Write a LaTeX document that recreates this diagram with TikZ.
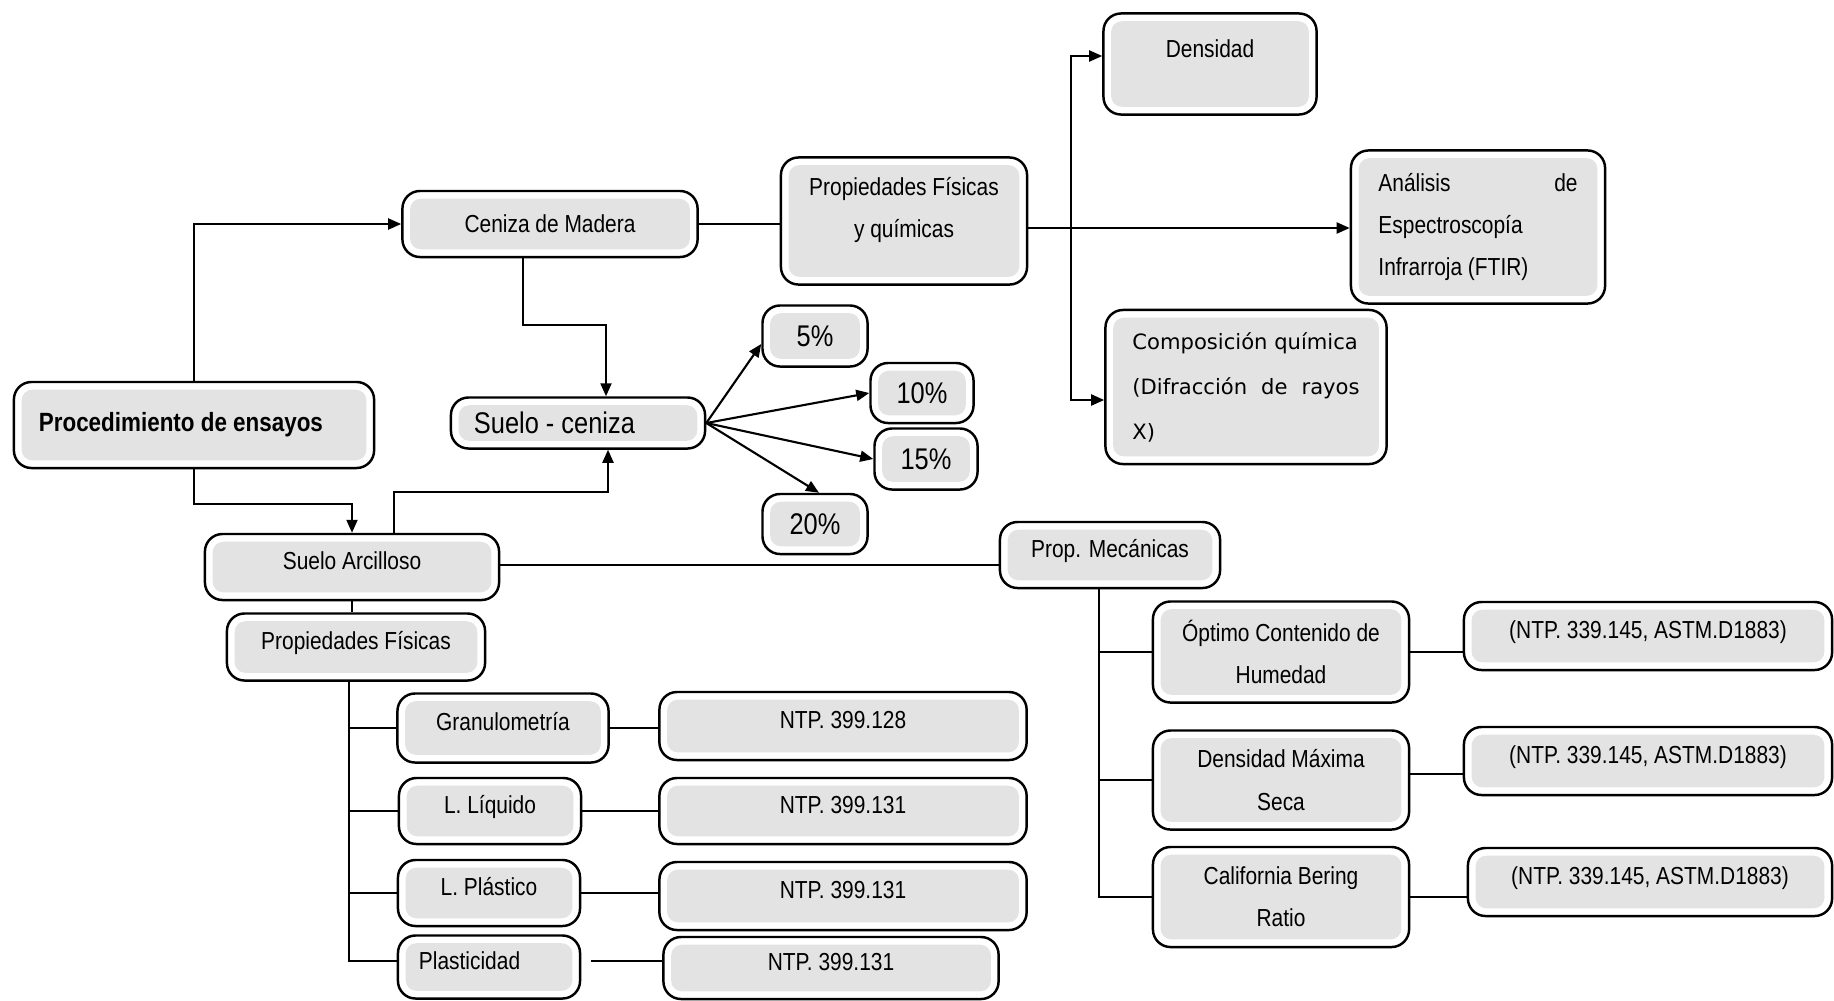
\documentclass[tikz,border=0pt]{standalone}
\usepackage{fontspec}
\setmainfont{Liberation Sans}[FakeStretch=0.85]
\newfontfamily\widefont{DejaVu Sans}
\usetikzlibrary{calc, arrows.meta, positioning}
\definecolor{boxgray}{HTML}{E3E3E3}

\tikzset{
    box/.style={draw, line width=0.7pt, rounded corners=5pt, fill=white, inner sep=0pt, align=center,
        font=\fontsize{7}{12}\selectfont,
        path picture={\fill[boxgray, rounded corners=3pt]
            ($(path picture bounding box.south west)+(2.2pt,2.2pt)$) rectangle
            ($(path picture bounding box.north east)+(-2.2pt,-2.2pt)$);}},
    lifted/.style={box, text depth=3.5pt},
    link/.style={line width=0.6pt},
    arr/.style={link, ->, >={Triangle[length=1.3mm, width=1.1mm]}},
    pct/.style={box, font=\fontsize{8.5}{10}\selectfont},
}

\begin{document}
\begin{tikzpicture}[x=0.01cm, y=-0.01cm]
    \useasboundingbox (0,0) rectangle (1834,1000);

    % top branch: ash
    \node[box, font=\bfseries\fontsize{7.5}{9}\selectfont, minimum width=3.6cm, minimum height=0.86cm, text width=3.1cm, align=flush left] (proc) at (194,425) {Procedimiento de ensayos};
    \node[box, minimum width=2.95cm, minimum height=0.66cm] (ceniza) at (550,224) {Ceniza de Madera};
    \node[box, text depth=7.5pt, minimum width=2.46cm, minimum height=1.27cm] (propfq) at (904,221) {Propiedades Físicas\\y químicas};
    \node[box, minimum width=2.13cm, minimum height=1.01cm, text height=0.445cm, text depth=0.565cm] (dens) at (1210,64) {Densidad};
    \node[box, minimum width=2.54cm, minimum height=1.53cm, text width=1.99cm, align=flush left] (ftir) at (1478,227) {Análisis\hfill de\\Espectroscopía\\Infrarroja (FTIR)};
    \node[box, font=\widefont\fontsize{6}{12.8}\selectfont, minimum width=2.81cm, minimum height=1.54cm, text width=2.27cm, align=flush left] (comp) at (1246,387) {Composición química\\(Difracción\hfill de\hfill rayos\\X)};

    % mixture and dosages
    \node[box, font=\fontsize{8.5}{10}\selectfont, minimum width=2.54cm, minimum height=0.51cm, text width=2.08cm, align=flush left] (suelocen) at (578,423) {Suelo - ceniza};
    \node[pct, minimum width=1.05cm, minimum height=0.61cm] (p5) at (815,336) {5\%};
    \node[pct, minimum width=1.03cm, minimum height=0.6cm] (p10) at (922,393) {10\%};
    \node[pct, minimum width=1.03cm, minimum height=0.61cm] (p15) at (926,459) {15\%};
    \node[pct, minimum width=1.05cm, minimum height=0.6cm] (p20) at (815,524) {20\%};

    % clay soil
    \node[lifted, minimum width=2.94cm, minimum height=0.66cm] (arcill) at (352,567) {Suelo Arcilloso};
    \node[lifted, minimum width=2.58cm, minimum height=0.67cm] (propf) at (356,647) {Propiedades Físicas};
    \node[lifted, minimum width=2.11cm, minimum height=0.69cm] (gran) at (503,728) {Granulometría};
    \node[lifted, minimum width=1.82cm, minimum height=0.66cm] (liq) at (490,811) {L. Líquido};
    \node[lifted, minimum width=1.82cm, minimum height=0.66cm] (plast) at (489,893) {L. Plástico};
    \node[lifted, minimum width=1.82cm, minimum height=0.63cm, text width=1.4cm, align=flush left] (plastic) at (489,967) {Plasticidad};
    \node[lifted, minimum width=3.67cm, minimum height=0.68cm] (ntpa) at (843,726) {NTP. 399.128};
    \node[lifted, minimum width=3.67cm, minimum height=0.66cm] (ntpb) at (843,811) {NTP. 399.131};
    \node[lifted, minimum width=3.67cm, minimum height=0.68cm] (ntpc) at (843,896) {NTP. 399.131};
    \node[lifted, minimum width=3.35cm, minimum height=0.62cm] (ntpd) at (831,968) {NTP. 399.131};

    % mechanical properties
    \node[lifted, minimum width=2.2cm, minimum height=0.66cm] (mec) at (1110,555) {Prop. Mecánicas};
    \node[box, minimum width=2.56cm, minimum height=1.01cm] (opt) at (1281,652) {Óptimo Contenido de\\Humedad};
    \node[box, minimum width=2.56cm, minimum height=0.99cm] (dmax) at (1281,780) {Densidad Máxima\\Seca};
    \node[box, minimum width=2.56cm, minimum height=1.0cm] (cbr) at (1281,897) {California Bering\\Ratio};
    \node[lifted, minimum width=3.68cm, minimum height=0.68cm] (astma) at (1648,636) {(NTP. 339.145, ASTM.D1883)};
    \node[lifted, minimum width=3.68cm, minimum height=0.68cm] (astmb) at (1648,761) {(NTP. 339.145, ASTM.D1883)};
    \node[lifted, minimum width=3.64cm, minimum height=0.68cm] (astmc) at (1650,882) {(NTP. 339.145, ASTM.D1883)};

    \coordinate (split) at ($(propfq.east)+(43,7)$);
    \coordinate (fisbus) at ($(propf.south)+(-7,0)$);
    \coordinate (mecbus) at ($(mec.south)+(-11,0)$);

    % connectors
    \draw[arr] (proc.north) |- (ceniza.west);
    \draw[arr] (proc.south) -- ++(0,35) -| (arcill.north);
    \draw[arr] ($(arcill.north)+(42,0)$) |- ($(suelocen.south)+(30,42)$) -- ($(suelocen.south)+(30,0)$);
    \draw[arr] ($(ceniza.south)+(-27,0)$) |- ($(suelocen.north)+(28,-71)$) -- ($(suelocen.north)+(28,0)$);
    \draw[link] (ceniza.east) -- (ceniza.east -| propfq.west);
    \draw[arr] ($(propfq.east)+(0,7)$) -- ($(ftir.west)+(0,1)$);
    \draw[arr] (split) |- ($(dens.west)+(0,-8)$);
    \draw[arr] (split) |- ($(comp.west)+(0,13)$);

    \draw[arr] (suelocen.east) -- ($(p5.west)+(0,8)$);
    \draw[arr] (suelocen.east) -- (p10.west);
    \draw[arr] (suelocen.east) -- (p15.west);
    \draw[arr] (suelocen.east) -- ($(p20.north)+(4,0)$);

    \draw[link] ($(arcill.east)+(0,-2)$) -- ($(arcill.east -| mec.west)+(0,-2)$);
    \draw[link] (arcill.south) -- (arcill.south |- propf.north);
    \draw[link] (fisbus) |- ($(plastic.west)+(0,-6)$);
    \foreach \b in {gran,liq,plast}{
        \draw[link] (fisbus |- \b.west) -- (\b.west);
    }
    \draw[link] (gran.east) -- (gran.east -| ntpa.west);
    \draw[link] (liq.east) -- (liq.east -| ntpb.west);
    \draw[link] (plast.east) -- (plast.east -| ntpc.west);
    \draw[link, shorten <=0.1cm] ($(plastic.east)+(0,-6)$) -- ($(plastic.east -| ntpd.west)+(0,-6)$);

    \draw[link] (mecbus) |- (cbr.west);
    \foreach \b in {opt,dmax}{
        \draw[link] (mecbus |- \b.west) -- (\b.west);
    }
    \draw[link] (opt.east) -- (opt.east -| astma.west);
    \draw[link] ($(dmax.east)+(0,-6)$) -- ($(dmax.east -| astmb.west)+(0,-6)$);
    \draw[link] (cbr.east) -- (cbr.east -| astmc.west);
\end{tikzpicture}
\end{document}
